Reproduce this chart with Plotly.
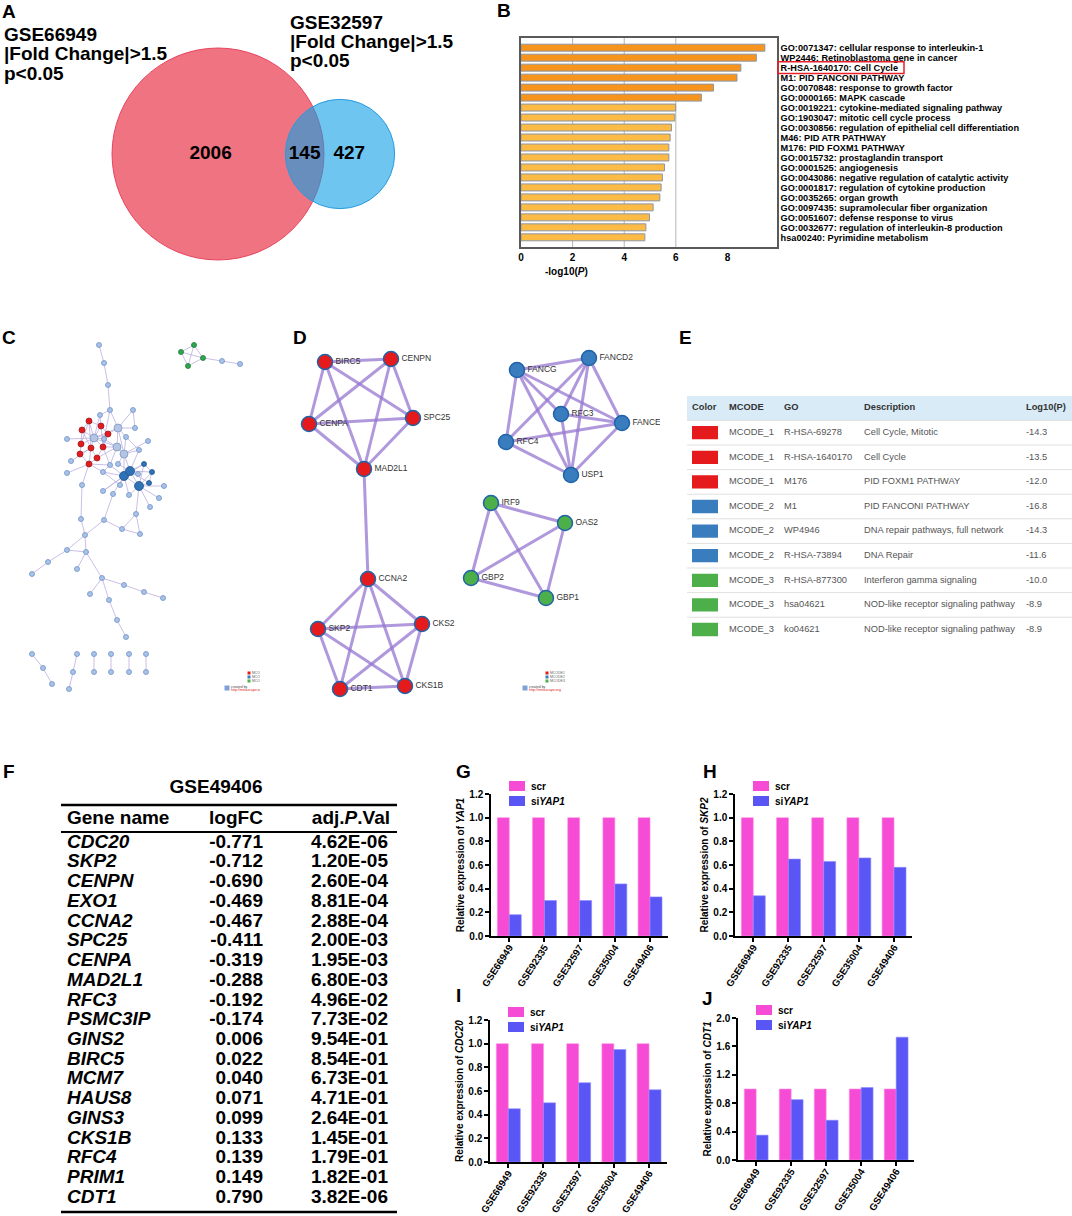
import numpy as np
import plotly.graph_objects as go

W, H = 1072, 1216
FONT = "Arial, Liberation Sans, sans-serif"

# ---------------- A: Venn
venn_names = ["GSE66949", "GSE32597"]
venn_only = [2006, 427]
venn_shared = 145

# ---------------- B: enrichment bars
go_terms = [
    "GO:0071347: cellular response to interleukin-1",
    "WP2446: Retinoblastoma gene in cancer",
    "R-HSA-1640170: Cell Cycle",
    "M1: PID FANCONI PATHWAY",
    "GO:0070848: response to growth factor",
    "GO:0000165: MAPK cascade",
    "GO:0019221: cytokine-mediated signaling pathway",
    "GO:1903047: mitotic cell cycle process",
    "GO:0030856: regulation of epithelial cell differentiation",
    "M46: PID ATR PATHWAY",
    "M176: PID FOXM1 PATHWAY",
    "GO:0015732: prostaglandin transport",
    "GO:0001525: angiogenesis",
    "GO:0043086: negative regulation of catalytic activity",
    "GO:0001817: regulation of cytokine production",
    "GO:0035265: organ growth",
    "GO:0097435: supramolecular fiber organization",
    "GO:0051607: defense response to virus",
    "GO:0032677: regulation of interleukin-8 production",
    "hsa00240: Pyrimidine metabolism",
]
go_logp = [9.45, 9.12, 8.52, 8.37, 7.46, 6.99, 5.99, 5.96, 5.83, 5.78,
           5.73, 5.73, 5.56, 5.48, 5.43, 5.38, 5.12, 4.98, 4.84, 4.80]
go_highlight = "R-HSA-1640170: Cell Cycle"

# ---------------- C: whole PPI network (layout coords)
c_x = [99, 104, 108, 110, 133, 135, 100, 118, 94, 104, 126, 117, 124, 148, 139, 67, 71, 67, 110, 118,
       103, 124, 130, 139, 144, 152, 149, 138, 129, 120, 113, 103, 164, 159, 150, 136, 122, 140, 104,
       89, 101, 82, 108, 81, 103, 91, 80, 97, 89,
       82, 81, 85, 67, 48, 32, 86, 77, 102, 124, 144, 163, 90, 109, 117, 126,
       194, 181, 203, 188, 222, 240,
       32, 43, 52, 77, 73, 69, 94, 94, 111, 111, 129, 129, 146, 146]
c_y = [45, 63, 85, 110, 110, 128, 115, 128, 138, 139, 137, 147, 154, 141, 150, 139, 161, 173, 165, 164,
       172, 176, 171, 186, 164, 172, 183, 174, 195, 185, 194, 191, 186, 198, 207, 214, 229, 234, 220,
       121, 126, 130, 134, 144, 147, 148, 154, 158, 164,
       185, 219, 235, 250, 262, 274, 252, 269, 278, 285, 292, 298, 294, 300, 320, 337,
       45, 52, 58, 66, 61, 64,
       354, 368, 384, 354, 372, 389, 354, 372, 354, 372, 354, 372, 354, 372]
c_kind = ("nnnnnnnNNnnNNnnnnnnnnBBBbbbnnnnnnnnnnnn"
          "rrrrrrrrrr"
          "nnnnnnnnnnnnnnnn"
          "ggggnn"
          "nnnnnnnnnnnnnn")
c_edges = [(0, 1), (1, 2), (2, 3), (3, 7), (3, 9), (3, 6), (4, 5), (4, 7), (5, 7),
           (6, 8), (6, 40), (7, 8), (7, 10), (7, 11), (7, 12), (7, 42),
           (8, 39), (8, 40), (8, 41), (8, 42), (8, 43), (8, 44), (8, 45), (8, 9), (8, 15), (8, 11),
           (9, 44), (9, 11), (10, 12), (10, 14), (11, 12), (11, 44), (11, 47), (11, 18),
           (12, 13), (12, 14), (12, 21), (12, 22), (12, 19), (14, 22), (16, 45), (17, 48),
           (18, 21), (18, 20), (19, 22), (20, 21), (20, 29),
           (21, 22), (21, 23), (21, 24), (21, 29), (21, 31), (21, 30), (21, 27), (21, 28),
           (22, 23), (22, 24), (22, 25), (22, 26), (22, 27),
           (23, 24), (23, 25), (23, 26), (23, 32), (23, 33), (23, 34), (23, 28), (23, 35),
           (24, 25), (25, 26), (30, 38), (31, 21), (35, 36), (35, 37), (36, 37), (36, 38), (38, 51),
           (39, 40), (39, 41), (39, 43), (40, 42), (41, 43), (41, 45), (42, 44), (43, 46), (44, 47),
           (45, 46), (45, 47), (46, 48), (47, 48), (45, 48), (39, 45), (40, 44), (48, 18), (48, 20), (44, 18),
           (48, 49), (49, 50), (50, 51), (51, 52), (52, 53), (53, 54), (51, 55), (52, 55), (55, 56),
           (55, 57), (57, 58), (58, 59), (59, 60), (57, 61), (57, 62), (62, 63), (63, 64),
           (65, 66), (65, 67), (65, 68), (66, 67), (66, 68), (67, 68), (67, 69), (69, 70),
           (71, 72), (72, 73), (74, 75), (75, 76), (77, 78), (79, 80), (81, 82), (83, 84)]

# ---------------- D: MCODE modules
d_names = ["BIRC5", "CENPN", "CENPA", "SPC25", "MAD2L1", "CCNA2", "SKP2", "CKS2", "CDT1", "CKS1B",
           "FANCG", "FANCD2", "RFC3", "FANCE", "RFC4", "USP1",
           "IRF9", "OAS2", "GBP2", "GBP1"]
d_x = [65, 131, 49, 153, 104, 108, 58, 162, 80, 145,
       257, 329, 301, 362, 246, 311,
       231, 305, 211, 286]
d_y = [62, 59, 124, 118, 169, 279, 329, 324, 389, 386,
       70, 58, 114, 123, 142, 175,
       203, 223, 278, 298]
d_module = [1] * 10 + [2] * 6 + [3] * 4
d_edges = [("BIRC5", "CENPN"), ("BIRC5", "CENPA"), ("BIRC5", "SPC25"), ("BIRC5", "MAD2L1"),
           ("CENPN", "CENPA"), ("CENPN", "SPC25"), ("CENPN", "MAD2L1"), ("CENPA", "SPC25"),
           ("CENPA", "MAD2L1"), ("SPC25", "MAD2L1"), ("MAD2L1", "CCNA2"),
           ("CCNA2", "SKP2"), ("CCNA2", "CKS2"), ("CCNA2", "CDT1"), ("CCNA2", "CKS1B"),
           ("SKP2", "CKS2"), ("SKP2", "CDT1"), ("SKP2", "CKS1B"), ("CKS2", "CDT1"),
           ("CKS2", "CKS1B"), ("CDT1", "CKS1B"),
           ("FANCG", "FANCD2"), ("FANCG", "RFC3"), ("FANCG", "FANCE"), ("FANCG", "RFC4"),
           ("FANCG", "USP1"), ("FANCD2", "RFC3"), ("FANCD2", "FANCE"), ("FANCD2", "RFC4"),
           ("FANCD2", "USP1"), ("RFC3", "FANCE"), ("RFC3", "USP1"), ("FANCE", "RFC4"),
           ("FANCE", "USP1"), ("RFC4", "USP1"),
           ("IRF9", "OAS2"), ("IRF9", "GBP2"), ("IRF9", "GBP1"), ("OAS2", "GBP2"),
           ("OAS2", "GBP1"), ("GBP2", "GBP1")]

# ---------------- E: MCODE enrichment table
e_module = [1, 1, 1, 2, 2, 2, 3, 3, 3]
e_go = ["R-HSA-69278", "R-HSA-1640170", "M176", "M1", "WP4946", "R-HSA-73894",
        "R-HSA-877300", "hsa04621", "ko04621"]
e_desc = ["Cell Cycle, Mitotic", "Cell Cycle", "PID FOXM1 PATHWAY", "PID FANCONI PATHWAY",
          "DNA repair pathways, full network", "DNA Repair", "Interferon gamma signaling",
          "NOD-like receptor signaling pathway", "NOD-like receptor signaling pathway"]
e_logp = [-14.3, -13.5, -12.0, -16.8, -14.3, -11.6, -10.0, -8.9, -8.9]

# ---------------- F: GSE49406 table
f_genes = ["CDC20", "SKP2", "CENPN", "EXO1", "CCNA2", "SPC25", "CENPA", "MAD2L1", "RFC3", "PSMC3IP",
           "GINS2", "BIRC5", "MCM7", "HAUS8", "GINS3", "CKS1B", "RFC4", "PRIM1", "CDT1"]
f_logfc = [-0.771, -0.712, -0.690, -0.469, -0.467, -0.411, -0.319, -0.288, -0.192, -0.174,
           0.006, 0.022, 0.040, 0.071, 0.099, 0.133, 0.139, 0.149, 0.790]
f_padj = [4.62e-06, 1.20e-05, 2.60e-04, 8.81e-04, 2.88e-04, 2.00e-03, 1.95e-03, 6.80e-03, 4.96e-02,
          7.73e-02, 9.54e-01, 8.54e-01, 6.73e-01, 4.71e-01, 2.64e-01, 1.45e-01, 1.79e-01, 1.82e-01,
          3.82e-06]

# ---------------- G-J: siYAP1 bar charts
datasets = ["GSE66949", "GSE92335", "GSE32597", "GSE35004", "GSE49406"]
scr = [1.0, 1.0, 1.0, 1.0, 1.0]
si_yap1 = [0.18, 0.30, 0.30, 0.44, 0.33]
si_skp2 = [0.34, 0.65, 0.63, 0.66, 0.58]
si_cdc20 = [0.45, 0.50, 0.67, 0.95, 0.61]
si_cdt1 = [0.35, 0.85, 0.56, 1.02, 1.73]

MOD_COLOR = {1: "#e41a1c", 2: "#3a7dbf", 3: "#4daf4a"}
SCR_COLOR = "#f64bd5"
SI_COLOR = "#5a56f6"


def xd(a, b):
    return [a / W, b / W]


def yd(a, b):
    return [1 - b / H, 1 - a / H]


fig = go.Figure()
shapes = []
ann = []
hidden = dict(visible=False, fixedrange=True, automargin=False)
axes = {}


def letter(t, px, py):
    ann.append(dict(text=f"<b>{t}</b>", x=px / W, y=1 - py / H, xref="paper", yref="paper",
                    showarrow=False, font=dict(size=19, color="black"),
                    xanchor="center", yanchor="middle"))


# ======== A
axes["xaxis"] = dict(domain=xd(0, 510), range=[0, 510], **hidden)
axes["yaxis"] = dict(domain=yd(0, 290), range=[290, 0], **hidden)
k = 2.285
r_a = k * np.sqrt(venn_only[0] + venn_shared)
r_b = k * np.sqrt(venn_only[1] + venn_shared)
cy, cx_a = 154, 218
cx_b = cx_a + 122
shapes.append(dict(type="circle", xref="x", yref="y", x0=cx_a - r_a, x1=cx_a + r_a,
                   y0=cy - r_a, y1=cy + r_a, fillcolor="#f07381", layer="below",
                   line=dict(color="#e8455f", width=1)))
shapes.append(dict(type="circle", xref="x", yref="y", x0=cx_b - r_b, x1=cx_b + r_b,
                   y0=cy - r_b, y1=cy + r_b, fillcolor="rgba(13,160,230,0.6)", layer="below",
                   line=dict(color="#2a9be0", width=1)))
lens_mid = ((cx_b - r_b) + (cx_a + r_a)) / 2
fig.add_trace(go.Scatter(
    x=[cx_a - 0.07 * r_a, lens_mid, cx_b + 0.17 * r_b], y=[cy, cy, cy],
    text=[f"<b>{venn_only[0]}</b>", f"<b>{venn_shared}</b>", f"<b>{venn_only[1]}</b>"],
    mode="text", textfont=dict(size=19, color="black"), xaxis="x", yaxis="y",
    hoverinfo="skip", showlegend=False))
for name, x0, ys in [(venn_names[0], 2, [34, 53, 73]), (venn_names[1], 288, [22, 41, 60])]:
    for line, yy in zip([name, "|Fold Change|&gt;1.5", "p&lt;0.05"], ys):
        ann.append(dict(text=f"<b>{line}</b>", x=x0, y=yy, xref="x", yref="y", showarrow=False,
                        xanchor="left", yanchor="middle", font=dict(size=19, color="black")))
letter("A", 9, 11)

# ======== B
bar_colors = ["#f7941e" if v > 6.5 else "#fcbb45" for v in go_logp]
fig.add_trace(go.Bar(x=go_logp, y=go_terms, orientation="h", xaxis="x2", yaxis="y2", width=0.7,
                     marker=dict(color=bar_colors, line=dict(color="#8d96a3", width=1)),
                     hoverinfo="skip", showlegend=False))
n_terms = len(go_terms)
axes["xaxis2"] = dict(domain=xd(521, 777), range=[0, 9.92], anchor="y2", tickvals=[0, 2, 4, 6, 8],
                      showgrid=False, zeroline=False, showline=True, mirror=True, automargin=False,
                      linecolor="#5a5a5a", linewidth=1.5, ticks="",
                      tickfont=dict(size=10, weight="bold", color="black"))
axes["yaxis2"] = dict(domain=yd(38, 247), anchor="x2", type="category", categoryorder="array",
                      categoryarray=go_terms, tickmode="array", tickvals=go_terms, ticktext=go_terms,
                      range=[n_terms - 0.5 + 0.47, -0.97], side="right", automargin=False,
                      showgrid=False, showline=True, mirror=True, linecolor="#5a5a5a", linewidth=1.5,
                      ticks="", tickfont=dict(size=9.2, weight="bold", color="black"))
for gx in [2, 4, 6]:
    shapes.append(dict(type="line", xref="x2", yref="y2 domain", x0=gx, x1=gx, y0=0, y1=1,
                       line=dict(color="#b5b5b5", width=1), layer="below"))
hi = go_terms.index(go_highlight)
shapes.append(dict(type="rect", xref="paper", yref="y2", x0=778 / W, x1=904 / W,
                   y0=hi - 0.58, y1=hi + 0.58, line=dict(color="#e8202a", width=1.5)))
ann.append(dict(text="<b>-log10(<i>P</i>)</b>", x=566 / W, y=1 - 264 / H, xref="paper", yref="paper",
                showarrow=False, font=dict(size=10, color="black")))
letter("B", 504, 10)


# ======== C
def mini_legend(xa, ya, x0, y0):
    fig.add_trace(go.Scatter(
        x=[x0] * 3, y=[y0, y0 + 4, y0 + 8], mode="markers+text",
        marker=dict(symbol="square", size=3, color=[MOD_COLOR[1], MOD_COLOR[2], MOD_COLOR[3]]),
        text=["MCODE1", "MCODE2", "MCODE3"], textposition="middle right",
        textfont=dict(size=3.5, color="#666"), xaxis=xa, yaxis=ya, hoverinfo="skip", showlegend=False))
    fig.add_trace(go.Scatter(
        x=[x0 - 22, x0 - 18, x0 - 18], y=[y0 + 15, y0 + 14, y0 + 17], mode="markers+text",
        marker=dict(symbol="square", size=[6, 0, 0], color="#4a78c8"),
        text=["", "created by", "http://metascape.org"], textposition="middle right",
        textfont=dict(size=3.5, color=["#444", "#444", "#e02020"]),
        xaxis=xa, yaxis=ya, hoverinfo="skip", showlegend=False))


axes["xaxis3"] = dict(domain=xd(0, 260), range=[0, 260], anchor="y3", **hidden)
axes["yaxis3"] = dict(domain=yd(300, 720), range=[420, 0], anchor="x3", **hidden)
ex, ey = [], []
for a, b in c_edges:
    ex += [c_x[a], c_x[b], None]
    ey += [c_y[a], c_y[b], None]
fig.add_trace(go.Scatter(x=ex, y=ey, mode="lines", line=dict(color="#bcaee0", width=0.8),
                         xaxis="x3", yaxis="y3", hoverinfo="skip", showlegend=False))
kind_style = {"n": ("#a9c3e7", 5, "#6f92c9"), "N": ("#b3c5e3", 8, "#7d98c6"),
              "r": (MOD_COLOR[1], 6, "#9a1f24"), "b": ("#2f72b6", 5, "#1f5590"),
              "B": ("#2f72b6", 9, "#1f5590"), "g": ("#2fa84f", 5, "#1c7a35")}
for kind, (col, size, lc) in kind_style.items():
    idx = [i for i, kk in enumerate(c_kind) if kk == kind]
    fig.add_trace(go.Scatter(x=[c_x[i] for i in idx], y=[c_y[i] for i in idx], mode="markers",
                             marker=dict(color=col, size=size, line=dict(color=lc, width=0.8)),
                             xaxis="x3", yaxis="y3", hoverinfo="skip", showlegend=False))
mini_legend("x3", "y3", 249, 373)
letter("C", 9, 337)

# ======== D
axes["xaxis4"] = dict(domain=xd(260, 660), range=[0, 400], anchor="y4", **hidden)
axes["yaxis4"] = dict(domain=yd(300, 720), range=[420, 0], anchor="x4", **hidden)
pos = {n: (x, y) for n, x, y in zip(d_names, d_x, d_y)}
ex, ey = [], []
for a, b in d_edges:
    ex += [pos[a][0], pos[b][0], None]
    ey += [pos[a][1], pos[b][1], None]
fig.add_trace(go.Scatter(x=ex, y=ey, mode="lines", line=dict(color="rgba(150,118,208,0.75)", width=3),
                         xaxis="x4", yaxis="y4", hoverinfo="skip", showlegend=False))
fig.add_trace(go.Scatter(x=d_x, y=d_y, mode="markers+text", text=d_names, textposition="middle right",
                         textfont=dict(size=8.5, color="#333"),
                         marker=dict(color=[MOD_COLOR[m] for m in d_module], size=15,
                                     line=dict(color="#1f64a8", width=1.5)),
                         xaxis="x4", yaxis="y4", hoverinfo="skip", showlegend=False))
mini_legend("x4", "y4", 287, 373)
letter("D", 300, 337)

# ======== E
axes["xaxis5"] = dict(domain=xd(687, 1072), range=[0, 385], anchor="y5", **hidden)
axes["yaxis5"] = dict(domain=yd(395.8, 641.8), range=[len(e_go) - 0.5, -1.5], anchor="x5", **hidden)
shapes.append(dict(type="rect", xref="x5", yref="y5", x0=0, x1=385, y0=-1.5, y1=-0.5,
                   fillcolor="#d9ebf6", line=dict(width=0), layer="below"))
for i in range(len(e_go)):
    shapes.append(dict(type="line", xref="x5", yref="y5", x0=0, x1=385, y0=i - 0.5, y1=i - 0.5,
                       line=dict(color="#e0e0e0", width=1), layer="below"))
    shapes.append(dict(type="rect", xref="x5", yref="y5", x0=5, x1=31, y0=i - 0.27, y1=i + 0.27,
                       fillcolor=MOD_COLOR[e_module[i]], line=dict(width=0)))
e_cols = [5, 42, 97, 177, 339]
fig.add_trace(go.Scatter(x=e_cols, y=[-1] * 5, mode="text",
                         text=["Color", "MCODE", "GO", "Description", "Log10(P)"],
                         textposition="middle right", textfont=dict(size=9.3, color="#333", weight="bold"),
                         xaxis="x5", yaxis="y5", hoverinfo="skip", showlegend=False))
rows = list(range(len(e_go)))
for cx, vals in [(e_cols[1], [f"MCODE_{m}" for m in e_module]), (e_cols[2], e_go),
                 (e_cols[3], e_desc), (e_cols[4], [f"{v:.1f}" for v in e_logp])]:
    fig.add_trace(go.Scatter(x=[cx] * len(vals), y=rows, mode="text", text=vals,
                             textposition="middle right", textfont=dict(size=9.3, color="#555"),
                             xaxis="x5", yaxis="y5", hoverinfo="skip", showlegend=False))
letter("E", 685, 337)

# ======== F
pitch, first = 19.72, 843
axes["xaxis6"] = dict(domain=xd(0, 440), range=[0, 440], anchor="y6", **hidden)
axes["yaxis6"] = dict(domain=yd(740, 1216), range=[(1216 - first) / pitch, (740 - first) / pitch],
                      anchor="x6", **hidden)
hdr = -1.22
fig.add_trace(go.Scatter(x=[216], y=[hdr - 1.57], mode="text", text=["GSE49406"],
                         textfont=dict(size=19, weight="bold", color="black"),
                         xaxis="x6", yaxis="y6", hoverinfo="skip", showlegend=False))
fig.add_trace(go.Scatter(x=[67, 236, 390], y=[hdr] * 3, mode="text",
                         text=["Gene name", "logFC", "adj.<i>P</i>.Val"],
                         textposition=["middle right", "middle center", "middle left"],
                         textfont=dict(size=19, weight="bold", color="black"),
                         xaxis="x6", yaxis="y6", hoverinfo="skip", showlegend=False))
frows = list(range(len(f_genes)))
fig.add_trace(go.Scatter(x=[67] * len(f_genes), y=frows, mode="text",
                         text=[f"<i>{g}</i>" for g in f_genes], textposition="middle right",
                         textfont=dict(size=19, weight="bold", color="black"),
                         xaxis="x6", yaxis="y6", hoverinfo="skip", showlegend=False))
fig.add_trace(go.Scatter(x=[263] * len(f_genes), y=frows, mode="text",
                         text=[f"{v:.3f}" for v in f_logfc], textposition="middle left",
                         textfont=dict(size=19, weight="bold", color="black"),
                         xaxis="x6", yaxis="y6", hoverinfo="skip", showlegend=False))
fig.add_trace(go.Scatter(x=[388] * len(f_genes), y=frows, mode="text",
                         text=[f"{v:.2E}" for v in f_padj], textposition="middle left",
                         textfont=dict(size=19, weight="bold", color="black"),
                         xaxis="x6", yaxis="y6", hoverinfo="skip", showlegend=False))
for yy, lw in [(hdr - 0.71, 2.5), (hdr + 0.66, 2), (len(f_genes) - 0.29, 2.5)]:
    shapes.append(dict(type="line", xref="x6", yref="y6", x0=61, x1=397, y0=yy, y1=yy,
                       line=dict(color="black", width=lw)))
letter("F", 9, 771)

# ======== G-J
panels = [
    ("G", "YAP1", si_yap1, (491, 668), (794, 936), 1.2, 0.2, (463, 772)),
    ("H", "SKP2", si_skp2, (735, 912), (794, 936), 1.2, 0.2, (710, 772)),
    ("I", "CDC20", si_cdc20, (490, 667), (1020, 1162), 1.2, 0.2, (458, 995)),
    ("J", "CDT1", si_cdt1, (738, 914), (1018, 1160), 2.0, 0.4, (707, 998)),
]
for n, (lab, gene, si, (px0, px1), (py0, py1), ymax, dt, lpos) in enumerate(panels, start=7):
    xa, ya = f"x{n}", f"y{n}"
    fig.add_trace(go.Bar(x=datasets, y=scr, name="scr", marker=dict(color=SCR_COLOR,
                         line=dict(color="#ff8fe6", width=0.6)), xaxis=xa, yaxis=ya,
                         hoverinfo="skip", showlegend=False))
    fig.add_trace(go.Bar(x=datasets, y=si, name="siYAP1", marker=dict(color=SI_COLOR,
                         line=dict(color="#8c89ff", width=0.6)), xaxis=xa, yaxis=ya,
                         hoverinfo="skip", showlegend=False))
    axes[f"xaxis{n}"] = dict(domain=xd(px0, px1), anchor=ya, type="category", range=[-0.52, 4.51],
                             showline=True, linecolor="black", linewidth=2, ticks="outside",
                             ticklen=4, tickwidth=1.5, tickcolor="black", tickangle=-57,
                             automargin=False, ticklabelstandoff=-4,
                             tickfont=dict(size=9.8, weight="bold", color="black"), showgrid=False)
    axes[f"yaxis{n}"] = dict(domain=yd(py0, py1), anchor=xa, range=[0, ymax], dtick=dt, tick0=0,
                             tickformat=".1f", showline=True, linecolor="black", linewidth=1.5,
                             ticks="outside", ticklen=4, tickwidth=1.5, tickcolor="black",
                             showgrid=False, zeroline=False, automargin=False,
                             tickfont=dict(size=10, weight="bold", color="black"),
                             title=dict(text=f"Relative expression of <i>{gene}</i>",
                                        font=dict(size=10, weight="bold", color="black"), standoff=3))
    # legend swatches
    for dy0, col, txt in [(-13, SCR_COLOR, "scr"), (2, SI_COLOR, "si<i>YAP1</i>")]:
        shapes.append(dict(type="rect", xref="paper", yref="paper",
                           x0=(px0 + 18) / W, x1=(px0 + 34) / W,
                           y0=1 - (py0 + dy0 + 10) / H, y1=1 - (py0 + dy0) / H,
                           fillcolor=col, line=dict(width=0)))
        ann.append(dict(text=f"<b>{txt}</b>", x=(px0 + 38) / W, y=1 - (py0 + dy0 + 5) / H,
                        xref="paper", yref="paper", showarrow=False, xanchor="left",
                        yanchor="middle", font=dict(size=10, color="black")))
    letter(lab, *lpos)

fig.update_layout(
    width=W, height=H, margin=dict(l=0, r=0, t=0, b=0, pad=0, autoexpand=False),
    paper_bgcolor="white", plot_bgcolor="white",
    font=dict(family=FONT, color="black"),
    barmode="group", bargap=0.32, bargroupgap=0,
    shapes=shapes, annotations=ann, showlegend=False,
    **axes,
)

fig.write_html("out.html", config={"displayModeBar": False},
               post_script="document.body.style.margin='0';")
